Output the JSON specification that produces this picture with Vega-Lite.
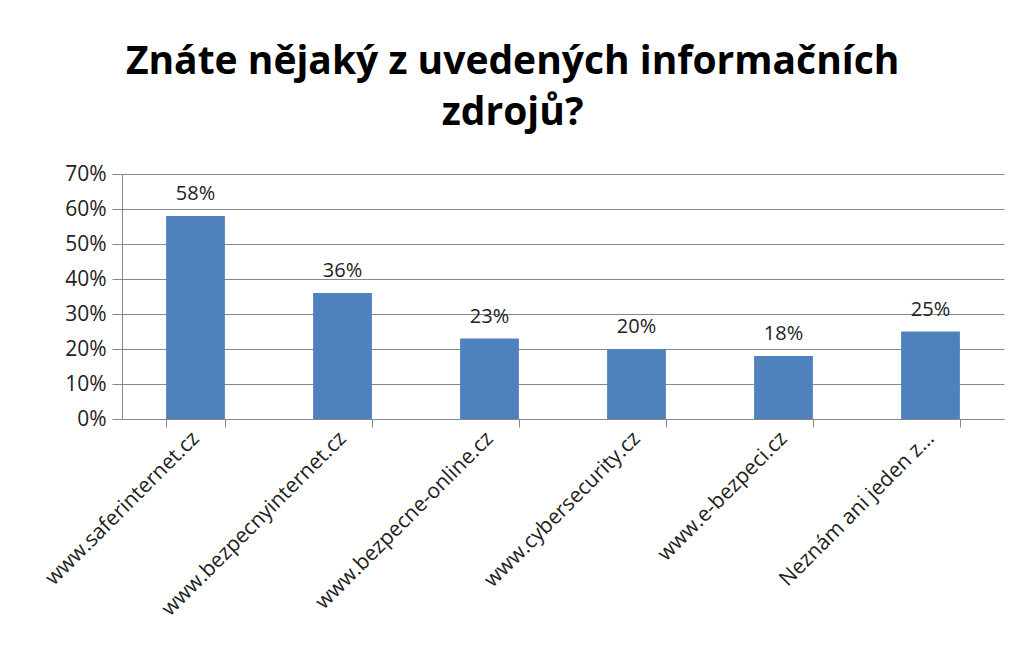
{
  "$schema": "https://vega.github.io/schema/vega-lite/v6.json",
  "width": 882,
  "height": 245,
  "padding": {"left": 41, "top": 43, "right": 13, "bottom": 5},
  "background": "white",
  "title": {
    "text": ["Znáte nějaký z uvedených informačních", "zdrojů?"],
    "font": "Open Sans",
    "fontSize": 39,
    "fontWeight": "bold",
    "color": "#000000",
    "lineHeight": 51,
    "anchor": "middle",
    "frame": "bounds",
    "dx": -10,
    "offset": 30
  },
  "data": {
    "values": [
      {"zdroj": "www.saferinternet.cz", "podil": 0.58},
      {"zdroj": "www.bezpecnyinternet.cz", "podil": 0.36},
      {"zdroj": "www.bezpecne-online.cz", "podil": 0.23},
      {"zdroj": "www.cybersecurity.cz", "podil": 0.20},
      {"zdroj": "www.e-bezpeci.cz", "podil": 0.18},
      {"zdroj": "Neznám ani jeden z…", "podil": 0.25}
    ]
  },
  "encoding": {
    "x": {
      "field": "zdroj",
      "type": "nominal",
      "sort": null,
      "scale": {"paddingInner": 0.6, "paddingOuter": 0.3},
      "axis": {
        "title": null,
        "labelAngle": -45,
        "labelAlign": "right",
        "labelBaseline": "middle",
        "labelFont": "Open Sans",
        "labelFontSize": 21,
        "labelColor": "#222222",
        "labelPadding": 8,
        "tickBand": "extent",
        "tickSize": 8,
        "tickColor": "#888888",
        "domainColor": "#888888",
        "labelLimit": 300
      }
    },
    "y": {
      "field": "podil",
      "type": "quantitative",
      "scale": {"domain": [0, 0.7]},
      "axis": {
        "title": null,
        "format": ".0%",
        "values": [0, 0.1, 0.2, 0.3, 0.4, 0.5, 0.6, 0.7],
        "labelFont": "Open Sans",
        "labelFontSize": 21,
        "labelColor": "#222222",
        "labelPadding": 6,
        "tickSize": 10,
        "tickColor": "#888888",
        "domainColor": "#888888",
        "gridColor": "#888888",
        "gridOpacity": 1
      }
    }
  },
  "layer": [
    {"mark": {"type": "bar", "color": "#4F81BD"}},
    {
      "mark": {"type": "text", "dy": -22, "font": "Open Sans", "fontSize": 20, "color": "#222222"},
      "encoding": {"text": {"field": "podil", "type": "quantitative", "format": ".0%"}}
    }
  ],
  "config": {"view": {"stroke": null}}
}
